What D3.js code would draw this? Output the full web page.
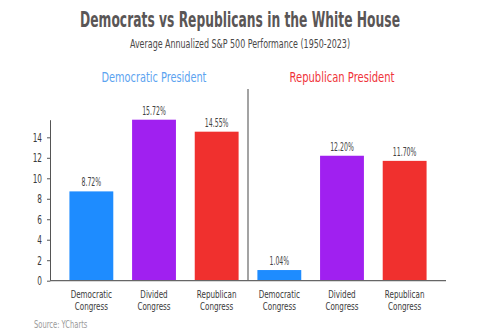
<!DOCTYPE html>
<html><head><meta charset="utf-8">
<script src="https://cdn.jsdelivr.net/npm/d3@7"></script>
<style>
body{margin:0;background:#fff;}
text{font-family:"DejaVu Sans Condensed","Liberation Sans Narrow",sans-serif;font-stretch:condensed;}
</style></head>
<body><svg id="c" width="480" height="336"></svg>
<script>
const groups = ["Democratic President", "Republican President"];
const congress = ["Democratic Congress", "Divided Congress", "Republican Congress"];
const demPresident = [8.72, 15.72, 14.55];
const repPresident = [1.04, 12.20, 11.70];
const yTicks = [0, 2, 4, 6, 8, 10, 12, 14];
const barColors = ["#1e8cff", "#a020f0", "#f0302e"];
const groupColors = ["#5ba3f0", "#f0343a"];

const rows = [];
[demPresident, repPresident].forEach((vals, g) => {
  vals.forEach((v, i) => rows.push({key: g + "-" + i, group: g, cat: congress[i], ci: i, value: v}));
});

// squeeze a centred text horizontally to a target width using a transform
function squeezeTo(sel, w) {
  sel.each(function() {
    const t = d3.select(this);
    const L = this.getComputedTextLength();
    const s = Math.min(1, w / L);
    const cx = +t.attr("x"), cy = +t.attr("y");
    t.attr("x", 0).attr("y", 0).attr("transform", `translate(${cx},${cy}) scale(${s},1)`);
  });
}
function condense(sel, f) {
  sel.each(function() {
    const L = this.getComputedTextLength();
    d3.select(this).attr("textLength", L * f).attr("lengthAdjust", "spacingAndGlyphs");
  });
}

const svg = d3.select("#c");
const x = d3.scaleBand().domain(rows.map(d => d.key)).range([50, 446]).paddingInner(0.3).paddingOuter(0.31);
const y = d3.scaleLinear().domain([0, d3.max(rows, d => d.value)]).range([280.7, 119.7]);

svg.append("text").attr("x", 240).attr("y", 27).attr("text-anchor", "middle")
  .attr("font-size", 21).attr("font-weight", "bold").attr("fill", "#5a5656")
  .text("Democrats vs Republicans in the White House").call(squeezeTo, 320);
svg.append("text").attr("x", 240).attr("y", 48).attr("text-anchor", "middle")
  .attr("font-size", 11.5).attr("fill", "#4a4848")
  .text("Average Annualized S&P 500 Performance (1950-2023)").call(squeezeTo, 220);

// group headers
groups.forEach((g, gi) => {
  const ks = rows.filter(d => d.group === gi).map(d => d.key);
  const cx = (x(ks[0]) + x(ks[2]) + x.bandwidth()) / 2;
  svg.append("text").attr("x", cx).attr("y", 82).attr("text-anchor", "middle")
    .attr("font-size", 14).attr("fill", groupColors[gi]).text(g).call(squeezeTo, 105);
});

// bars
svg.selectAll("rect.bar").data(rows).join("rect").attr("class", "bar")
  .attr("x", d => x(d.key)).attr("width", x.bandwidth())
  .attr("y", d => y(d.value)).attr("height", d => y(0) - y(d.value))
  .attr("fill", d => barColors[d.ci]);

svg.selectAll("text.val").data(rows).join("text").attr("class", "val")
  .attr("x", d => x(d.key) + x.bandwidth() / 2).attr("y", d => y(d.value) - 5)
  .attr("text-anchor", "middle").attr("font-size", 11.5).attr("fill", "#444")
  .text(d => d.value.toFixed(2) + "%").call(condense, 0.6);

// category labels (two lines, separate text elements)
const lines = [];
rows.forEach(d => d.cat.split(" ").forEach((p, i) => lines.push({key: d.key, text: p, line: i})));
svg.selectAll("text.cat").data(lines).join("text").attr("class", "cat")
  .attr("x", d => x(d.key) + x.bandwidth() / 2).attr("y", d => 297.5 + d.line * 12.2)
  .attr("text-anchor", "middle").attr("font-size", 10.5).attr("fill", "#3a3a3a")
  .text(d => d.text).call(condense, 0.76);

// y axis
const ax = svg.append("g").attr("transform", "translate(50,0)")
  .call(d3.axisLeft(y).tickValues(yTicks).tickSize(3).tickSizeOuter(0).tickPadding(5).tickFormat(d3.format("d")));
ax.select(".domain").attr("stroke", "#555");
ax.selectAll(".tick line").attr("stroke", "#555");
ax.selectAll(".tick text").attr("font-size", 12).attr("fill", "#3a3a3a")
  .attr("font-family", "DejaVu Sans Condensed, sans-serif").call(condense, 0.68);

// baseline
svg.append("line").attr("x1", 50).attr("x2", x.range()[1]).attr("y1", y(0)).attr("y2", y(0))
  .attr("stroke", "#666").attr("stroke-width", 1.2);
// separator
const sepX = (x(rows[2].key) + x.bandwidth() + x(rows[3].key)) / 2;
svg.append("line").attr("x1", sepX).attr("x2", sepX).attr("y1", 89).attr("y2", y(0))
  .attr("stroke", "#666").attr("stroke-width", 1.2);

svg.append("text").attr("x", 34).attr("y", 328).attr("font-size", 10).attr("fill", "#9a9a9a")
  .text("Source: YCharts").call(condense, 0.75);
</script></body></html>
